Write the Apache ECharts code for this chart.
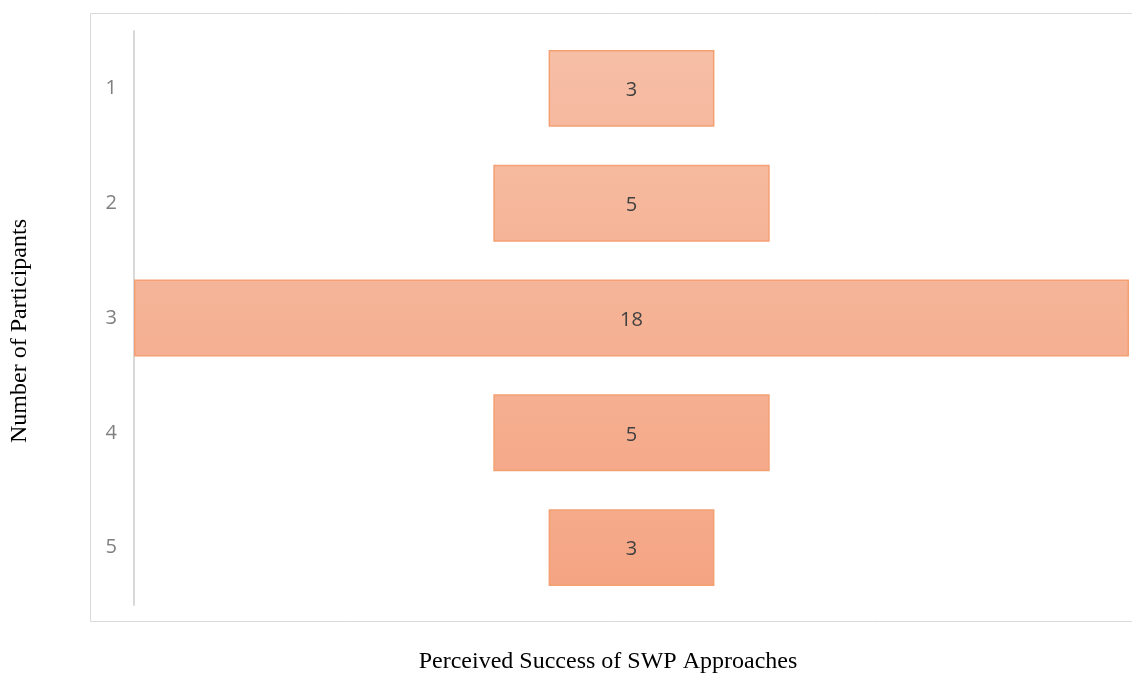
<!DOCTYPE html>
<html>
<head>
<meta charset="utf-8">
<script src="https://cdn.jsdelivr.net/npm/echarts@6/dist/echarts.min.js"></script>
<style>html,body{margin:0;padding:0;background:#fff}#c{width:1132px;height:674px}</style>
</head>
<body>
<div id="c"></div>
<script>
const categories = ['1', '2', '3', '4', '5'];
const participants = [3, 5, 18, 5, 3];
const yTitle = 'Number of Participants';
const xTitle = 'Perceived Success of SWP Approaches';

const fills = [['#F6BFA6', '#F6B99F'], ['#F6BA9F', '#F5B498'], ['#F5B598', '#F5AF92'], ['#F5AF91', '#F5A98A'], ['#F5AA8A', '#F5A483']];
const maxVal = Math.max(...participants);
const offsets = participants.map(v => (maxVal - v) / 2);

const chart = echarts.init(document.getElementById('c'), null, {renderer: 'canvas'});
chart.setOption({
  animation: false,
  backgroundColor: '#fff',
  grid: {left: 134, right: 3, top: 31, bottom: 69, containLabel: false},
  xAxis: {type: 'value', min: 0, max: maxVal, show: false},
  yAxis: {
    type: 'category', data: categories, inverse: true,
    axisLine: {show: true, lineStyle: {color: '#D9D9D9', width: 2}},
    axisTick: {show: false},
    axisLabel: {color: '#808080', fontSize: 20, fontFamily: 'Open Sans', margin: 17, padding: [4, 0, 0, 0]},
    splitLine: {show: false}
  },
  series: [
    {type: 'bar', stack: 's', data: offsets, itemStyle: {color: 'transparent'}, barCategoryGap: '33%', silent: true},
    {type: 'bar', stack: 's', data: participants, barCategoryGap: '33%',
      itemStyle: {
        borderColor: '#F4A073', borderWidth: 1.5,
        color: p => new echarts.graphic.LinearGradient(0, 0, 0, 1, [{offset: 0, color: fills[p.dataIndex][0]}, {offset: 1, color: fills[p.dataIndex][1]}])
      },
      label: {show: true, position: 'inside', color: '#404040', fontSize: 20, fontFamily: 'Open Sans', offset: [0, 2]}
    }
  ],
  graphic: [
    {type: 'rect', shape: {x: 90.5, y: 13.5, width: 1050, height: 608}, style: {fill: 'none', stroke: '#D9D9D9', lineWidth: 1}, z: -1},
    {type: 'text', rotation: Math.PI / 2, x: 20, y: 331, style: {text: yTitle, font: '24px "Liberation Serif"', fill: '#000', textAlign: 'center', textVerticalAlign: 'middle'}},
    {type: 'text', x: 608, y: 662, style: {text: xTitle, font: '24px "Liberation Serif"', fill: '#000', textAlign: 'center', textVerticalAlign: 'middle'}}
  ]
});
</script>
</body>
</html>
